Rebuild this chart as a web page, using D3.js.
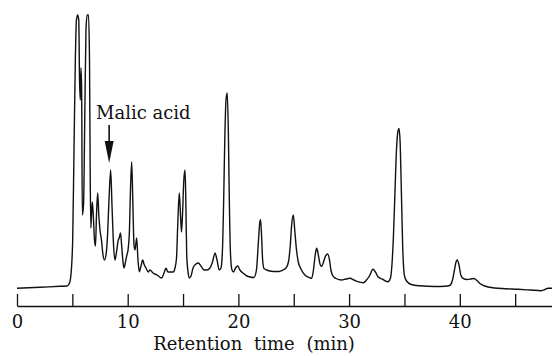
<!DOCTYPE html>
<html>
<head>
<meta charset="utf-8">
<script src="https://cdn.jsdelivr.net/npm/d3@7"></script>
<style>
  html, body { margin: 0; padding: 0; background: #fff; }
  svg { display: block; }
</style>
</head>
<body>
<svg id="chart" width="552" height="356"></svg>
<script>
// Retention time (min)
const times = [0,2.08,3.88,4.52,4.70,4.83,4.94,5.03,5.15,5.27,5.37,5.48,5.58,5.65,5.72,5.78,5.84,5.90,6.01,6.12,6.23,6.34,6.46,6.55,6.61,6.67,6.73,6.80,6.89,7.00,7.09,7.18,7.29,7.39,7.50,7.63,7.77,7.90,8.04,8.18,8.31,8.46,8.58,8.72,8.85,8.99,9.15,9.23,9.35,9.47,9.58,9.67,9.80,9.91,10.03,10.16,10.25,10.36,10.46,10.57,10.66,10.81,10.93,11.05,11.20,11.36,11.47,11.65,11.86,12.01,12.29,12.65,13.07,13.28,13.46,13.64,14.12,14.27,14.41,14.52,14.66,14.77,14.86,14.95,15.07,15.18,15.25,15.33,15.45,15.56,15.72,15.90,16.17,16.38,16.62,16.89,17.16,17.43,17.66,17.89,18.07,18.27,18.43,18.56,18.67,18.77,18.88,18.99,19.09,19.18,19.29,19.42,19.56,19.74,19.94,20.14,20.44,20.78,21.05,21.41,21.63,21.79,21.91,22.00,22.09,22.19,22.31,22.67,23.21,23.67,24.03,24.30,24.52,24.69,24.81,24.96,25.09,25.25,25.41,25.65,26.01,26.29,26.62,26.78,26.94,27.07,27.22,27.37,27.52,27.69,27.87,28.07,28.23,28.36,28.54,28.82,29.33,29.72,30.08,30.44,30.80,31.28,31.57,31.84,32.16,32.38,32.61,33.06,33.51,33.74,33.87,34.01,34.15,34.28,34.42,34.51,34.62,34.73,34.85,35.02,35.27,35.62,36.40,37.73,38.66,39.09,39.34,39.52,39.66,39.77,39.93,40.09,40.29,40.65,41.01,41.28,41.55,41.82,42.25,43.15,44.08,45.26,46.34,47.36,47.70,47.97,48.33];
// Detector response (arbitrary units)
const response = [17.7,18.7,19.7,20,22,27,41,66,156,246,286,291,286,226,206,238,216,91,101,186,276,291,291,246,136,78,91,104,91,66,60,91,113,91,76,66,51,46,51,71,106,136,101,61,46,54,66,68,73,58,44,38,44,50,56,76,116,144,106,61,56,68,46,34.3,40,46,42,38,34,36,33,31,28,33,37.7,34,34,38,48,81,113,91,74,91,126,136,106,51,34,28,30,38,42,43,40,36,36,38,44,53,46,36,38,56,106,166,206,213,176,106,51,36,34,38,40,36,32.7,30,29,28.5,36,61,81,86.5,71,46,37.5,35.5,34.5,34.5,36,38,44,61,81,91,76,56,44,37,31,29,27.7,36,51,57.7,51,42,39.5,44,50,52,46,36,30,27.5,26,27,27.7,26,24.3,23.3,26,30,36.7,34,29.3,26.5,24.3,28,41,71,116,156,175,177.5,161,111,56,29.3,24,21.5,20.2,19.5,19.7,20.5,26,36,44,46,41,31,27.7,26.5,27,27.5,25.5,22.5,20,18,17.3,16.7,16,15.3,16.5,17.7,17.7];
const tickValues = [0,5,10,15,20,25,30,35,40,45];
const tickLabels = ["0","10","20","30","40"];
const axisTitle = "Retention time (min)";
const annotation = { label: "Malic acid", time: 8.46 };

const svg = d3.select("#chart");
const font = "'DejaVu Serif', 'Liberation Serif', serif";

const x = d3.scaleLinear().domain([0, 48.33]).range([17, 552]);
const y = d3.scaleLinear().domain([0, 291]).range([306, 15]);

// trace
const line = d3.line()
  .x((d, i) => x(times[i]))
  .y((d, i) => y(response[i]))
  .curve(d3.curveMonotoneX);

svg.append("path")
  .datum(times)
  .attr("d", line)
  .attr("fill", "none")
  .attr("stroke", "#111")
  .attr("stroke-width", 1.4)
  .attr("stroke-linejoin", "round");

// axis
const axis = d3.axisBottom(x)
  .tickValues(tickValues)
  .tickSizeInner(-12)
  .tickSizeOuter(0)
  .tickPadding(9)
  .tickFormat(d => tickLabels.includes(String(d)) ? String(d) : "");

const g = svg.append("g")
  .attr("transform", "translate(0,306)")
  .call(axis);
g.select(".domain").attr("stroke", "#111").attr("stroke-width", 1.6);
g.selectAll(".tick line").attr("stroke", "#111").attr("stroke-width", 1.3);
g.selectAll(".tick text")
  .attr("fill", "#111")
  .style("font-family", font)
  .style("font-size", "18px");

// axis title
svg.append("text")
  .attr("x", 254)
  .attr("y", 350)
  .attr("text-anchor", "middle")
  .style("font-family", font)
  .style("font-size", "18px")
  .style("word-spacing", "6px")
  .attr("fill", "#111")
  .text(axisTitle);

// annotation
const ax = x(annotation.time) - 1.5;
svg.append("text")
  .attr("x", 96)
  .attr("y", 119)
  .style("font-family", font)
  .style("font-size", "18px")
  .attr("fill", "#111")
  .text(annotation.label);

svg.append("line")
  .attr("x1", ax).attr("x2", ax)
  .attr("y1", 125).attr("y2", 145)
  .attr("stroke", "#111")
  .attr("stroke-width", 1.6);

svg.append("path")
  .attr("d", d3.line()([[ax - 4.5, 141], [ax + 4.5, 141], [ax, 163]]) + "Z")
  .attr("fill", "#111");
</script>
</body>
</html>
